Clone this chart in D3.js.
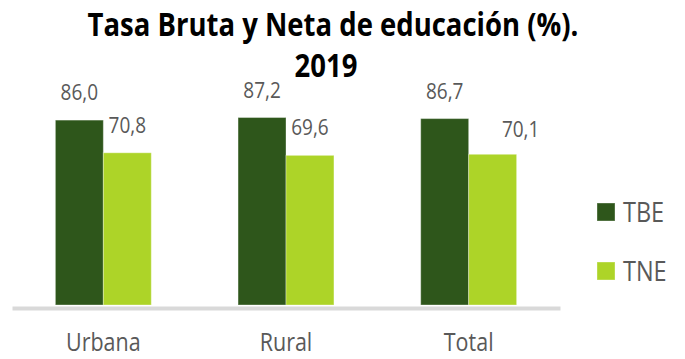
<!DOCTYPE html>
<html>
<head>
<meta charset="utf-8">
<script src="https://cdn.jsdelivr.net/npm/d3@7"></script>
<style>
  html, body { margin: 0; padding: 0; background: #fff; }
  svg { display: block; }
  text { font-family: "Open Sans", "Noto Sans", sans-serif; }
</style>
</head>
<body>
<div id="chart"></div>
<script>
// Tasa Bruta (TBE) y Tasa Neta (TNE) de educación, 2019
const categories = ["Urbana", "Rural", "Total"];
const series = ["TBE", "TNE"];
const tbe = [86.0, 87.2, 86.7];
const tne = [70.8, 69.6, 70.1];
const titleLines = ["Tasa Bruta y Neta de educación (%).", "2019"];

const values = { TBE: tbe, TNE: tne };
const colors = { TBE: "#2e561b", TNE: "#add428" };
const fmt = v => d3.format(".1f")(v).replace(".", ",");

const W = 685, H = 359;
const stretch = 1.18; // text is drawn slightly taller than wide

const svg = d3.select("#chart").append("svg")
  .attr("width", W).attr("height", H);

const x = d3.scaleBand()
  .domain(categories)
  .range([12, 560])
  .paddingInner(0.475)
  .paddingOuter(0.2375);

const xs = d3.scaleBand()
  .domain(series)
  .range([0, x.bandwidth()]);

const y = d3.scaleLinear().domain([0, 100]).range([305, 90]);

function stretchedText(sel, tx, ty) {
  return sel.attr("transform", `translate(${tx},${ty}) scale(1,${stretch})`);
}

// title
titleLines.forEach((line, i) => {
  stretchedText(svg.append("text"), i === 0 ? 333 : 326, i === 0 ? 36 : 77)
    .attr("text-anchor", "middle")
    .attr("font-size", 27.5)
    .attr("font-weight", 700)
    .attr("fill", "#000")
    .text(line);
});

// bars
const rows = [];
categories.forEach((c, i) => series.forEach(s => rows.push({ c, s, v: values[s][i] })));

svg.append("g").selectAll("rect")
  .data(rows)
  .join("rect")
  .attr("x", d => x(d.c) + xs(d.s))
  .attr("y", d => y(d.v))
  .attr("width", xs.bandwidth())
  .attr("height", d => y(0) - y(d.v))
  .attr("fill", d => colors[d.s])
  .attr("stroke", "rgba(255,255,255,0.35)")
  .attr("stroke-width", 1);

// value labels (the Total TNE label sits nudged to the right)
svg.append("g").selectAll("text")
  .data(rows)
  .join("text")
  .each(function (d) {
    const nudge = (d.c === "Total" && d.s === "TNE") ? 28 : 0;
    const gap = (d.c === "Total" && d.s === "TNE") ? 17 : 20;
    stretchedText(d3.select(this), x(d.c) + xs(d.s) + xs.bandwidth() / 2 + nudge, y(d.v) - gap);
  })
  .attr("text-anchor", "middle")
  .attr("font-size", 19)
  .attr("fill", "#595959")
  .text(d => fmt(d.v));

// category axis
const axis = svg.append("g")
  .attr("transform", "translate(0,308)")
  .call(d3.axisBottom(x).tickSize(0).tickFormat(""));
axis.select(".domain").attr("stroke", "#d9d9d9").attr("stroke-width", 4);

svg.append("g").selectAll("text")
  .data(categories)
  .join("text")
  .each(function (c) { stretchedText(d3.select(this), x(c) + x.bandwidth() / 2, 351); })
  .attr("text-anchor", "middle")
  .attr("font-size", 21.5)
  .attr("fill", "#595959")
  .text(c => c);

// legend
const legend = svg.append("g").selectAll("g")
  .data(series)
  .join("g")
  .attr("transform", (d, i) => `translate(597,${203 + i * 59})`);
legend.append("rect")
  .attr("width", 18).attr("height", 18)
  .attr("fill", d => colors[d])
  .attr("stroke", "rgba(255,255,255,0.35)");
legend.append("text")
  .each(function () { stretchedText(d3.select(this), 26, 19); })
  .attr("font-size", 23.5)
  .attr("fill", "#595959")
  .text(d => d);
</script>
</body>
</html>
